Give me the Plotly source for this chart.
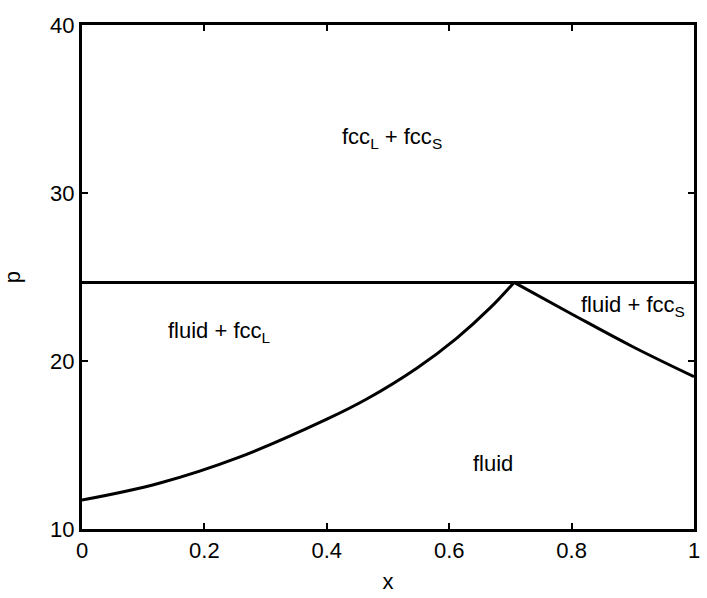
import plotly.graph_objects as go

# Data
left_x = [0.0, 0.126, 0.256, 0.401, 0.466, 0.547, 0.612, 0.666, 0.706]
left_p = [11.72, 12.72, 14.26, 16.55, 17.75, 19.57, 21.35, 23.13, 24.68]
right_x = [0.706, 0.8, 0.9, 1.0]
right_p = [24.68, 22.8, 20.85, 19.07]
tie_x = [0.0, 1.0]
tie_p = [24.68, 24.68]

labels = ["fcc<sub>L</sub> + fcc<sub>S</sub>", "fluid + fcc<sub>L</sub>",
          "fluid + fcc<sub>S</sub>", "fluid"]
label_x = [0.507, 0.224, 0.9, 0.672]
label_p = [33.3, 21.7, 23.25, 13.9]

FONT = "Liberation Sans, Arial, sans-serif"

fig = go.Figure()
line = dict(color="black", width=3)
fig.add_trace(go.Scatter(x=left_x, y=left_p, mode="lines", line=dict(shape="spline", smoothing=1.1, **line)))
fig.add_trace(go.Scatter(x=right_x, y=right_p, mode="lines", line=dict(shape="spline", smoothing=1.1, **line)))
fig.add_trace(go.Scatter(x=tie_x, y=tie_p, mode="lines", line=line))

for t, x, y in zip(labels, label_x, label_p):
    fig.add_annotation(x=x, y=y, text=t, showarrow=False,
                       font=dict(size=22, color="black", family=FONT))

axis_common = dict(showgrid=False, zeroline=False, showline=True, linecolor="black",
                   linewidth=3, mirror="ticks", ticks="inside", ticklen=6,
                   tickwidth=2, tickcolor="black",
                   tickfont=dict(size=22, color="black", family=FONT))
fig.update_xaxes(range=[0, 1], tickvals=[0, 0.2, 0.4, 0.6, 0.8, 1],
                 ticktext=["0", "0.2", "0.4", "0.6", "0.8", "1"],
                 title=dict(text="x", font=dict(size=22, color="black", family=FONT), standoff=12),
                 **axis_common)
fig.update_yaxes(range=[10, 40], tickvals=[10, 20, 30, 40],
                 title=dict(text="p", font=dict(size=22, color="black", family=FONT), standoff=28),
                 **axis_common)
fig.update_layout(width=707, height=598, showlegend=False,
                  plot_bgcolor="white", paper_bgcolor="white",
                  margin=dict(l=82, r=7, t=25, b=66))
fig.write_html("out.html")
